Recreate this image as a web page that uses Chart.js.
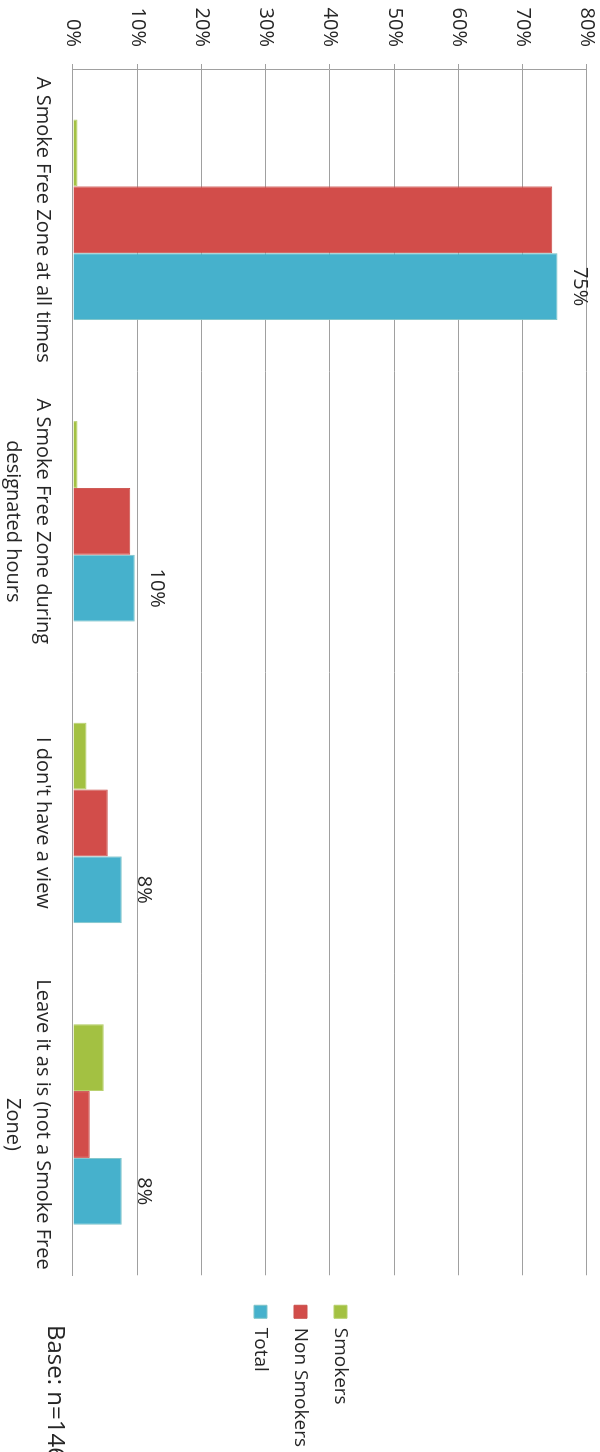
<!DOCTYPE html>
<html>
<head>
<meta charset="utf-8">
<script src="https://cdn.jsdelivr.net/npm/chart.js@4/dist/chart.umd.min.js"></script>
<style>
  html, body { margin: 0; padding: 0; overflow: hidden; background: #fff; width: 600px; height: 1452px; }
  #wrap { position: absolute; left: 0; top: 0; width: 1452px; height: 600px;
          transform-origin: 0 0; transform: translate(600px, 0) rotate(90deg); background: #fff; }
</style>
</head>
<body>
<div id="wrap"><canvas id="c" width="1452" height="600"></canvas></div>
<script>
const categories = [
  "A Smoke Free Zone at all times",
  ["A Smoke Free Zone during", "designated hours"],
  "I don't have a view",
  ["Leave it as is (not a Smoke Free", "Zone)"]
];
const seriesNames = ["Smokers", "Non Smokers", "Total"];
const smokers = [0.7, 0.7, 2.1, 4.8];
const nonSmokers = [74.6, 8.9, 5.4, 2.6];
const total = [75.4, 9.6, 7.6, 7.6];
const yTicks = [0, 10, 20, 30, 40, 50, 60, 70, 80];
const baseNote = "Base: n=146";

const FONT = "'Open Sans', 'DejaVu Sans', sans-serif";
const TXT = '#262626';

const totalLabels = {
  id: 'totalLabels',
  afterLayout(chart) {
    const lg = chart.legend;
    if (lg) {
      lg.left += 9; lg.right += 9;
      lg.top -= 7; lg.bottom -= 7;
    }
  },
  afterDatasetsDraw(chart) {
    const ctx = chart.ctx;
    const meta = chart.getDatasetMeta(2);
    ctx.save();
    ctx.font = '20px ' + FONT;
    ctx.fillStyle = TXT;
    ctx.textAlign = 'center';
    ctx.textBaseline = 'middle';
    meta.data.forEach((bar, i) => {
      ctx.fillText(Math.round(total[i]) + '%', bar.x, bar.y - 22);
    });
    ctx.restore();
  },
  afterDraw(chart) {
    const ctx = chart.ctx;
    ctx.save();
    ctx.font = '24px ' + FONT;
    ctx.fillStyle = TXT;
    ctx.textAlign = 'left';
    ctx.textBaseline = 'middle';
    ctx.fillText(baseNote, 1325, 545);
    ctx.restore();
  }
};

new Chart(document.getElementById('c'), {
  type: 'bar',
  data: {
    labels: categories,
    datasets: [
      { label: seriesNames[0], data: smokers, backgroundColor: '#A3C142', borderColor: '#B5CF6A', borderWidth: 1 },
      { label: seriesNames[1], data: nonSmokers, backgroundColor: '#D24D4A', borderColor: '#C9504C', borderWidth: 1 },
      { label: seriesNames[2], data: total, backgroundColor: '#46B1CC', borderColor: '#7FC4C8', borderWidth: 1 }
    ]
  },
  options: {
    responsive: false,
    animation: false,
    devicePixelRatio: 1,
    layout: { padding: { top: 13, right: 4, bottom: 0, left: 0 } },
    datasets: { bar: { categoryPercentage: 0.665, barPercentage: 1.0 } },
    scales: {
      x: {
        grid: { display: false, drawTicks: false, tickLength: 0 },
        border: { display: true, color: '#A0A0A0', width: 1 },
        ticks: { color: TXT, font: { family: FONT, size: 20, lineHeight: 1.5 }, padding: 15, maxRotation: 0, autoSkip: false },
        afterFit(scale) { scale.height = 73; }
      },
      y: {
        min: 0, max: 80,
        afterBuildTicks(scale) { scale.ticks = yTicks.map(v => ({ value: v })); },
        grid: { color: '#A0A0A0', lineWidth: 1, tickLength: 5, drawTicks: true },
        border: { display: true, color: '#A0A0A0', width: 1 },
        ticks: { color: TXT, font: { family: FONT, size: 20 }, padding: 17, callback: v => v + '%' },
        afterFit(scale) { scale.width = 69; scale.paddingTop = 0; scale.paddingBottom = 0; }
      }
    },
    plugins: {
      legend: {
        position: 'right',
        align: 'center',
        labels: { color: TXT, font: { family: FONT, size: 19 }, boxWidth: 13, boxHeight: 13, padding: 21 }
      },
      tooltip: { enabled: false }
    }
  },
  plugins: [totalLabels]
});
</script>
</body>
</html>
